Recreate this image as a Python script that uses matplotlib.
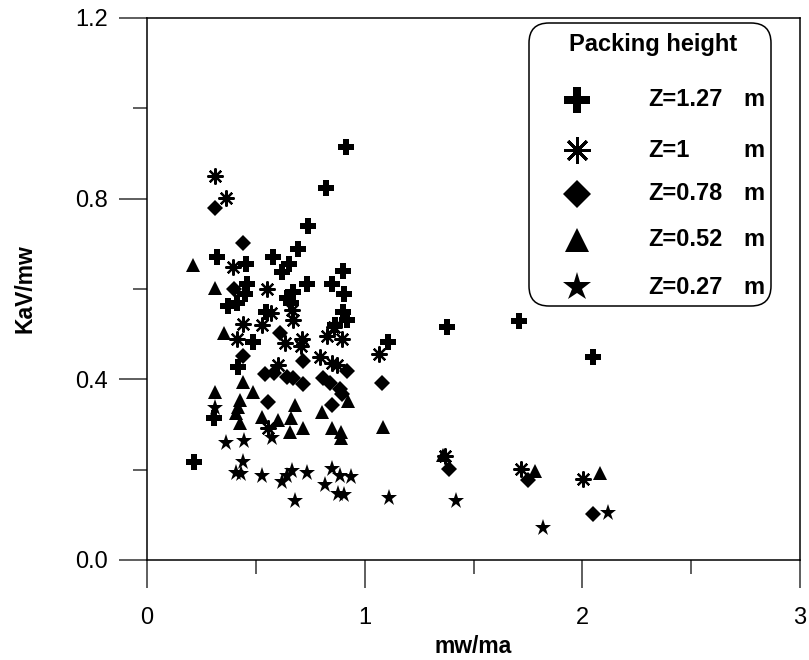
"""KaV/mw against mw/ma for five packing heights."""

import matplotlib
matplotlib.use("Agg")
import matplotlib.pyplot as plt
from matplotlib.lines import Line2D
from matplotlib.patches import FancyBboxPatch
from matplotlib.ticker import MultipleLocator, FormatStrFormatter

plt.rcParams["font.family"] = ["Liberation Sans", "DejaVu Sans"]

# Z = 1.27 m
z127_x = [0.914, 0.822, 0.740, 0.694, 0.320, 0.457, 0.581, 0.652, 0.620, 0.900,
          0.735, 0.850, 0.905, 0.459, 0.450, 0.671, 0.370, 0.415, 0.545, 0.661,
          0.900, 0.920, 0.862, 0.487, 0.420, 0.308, 0.215, 1.107, 1.378, 1.709,
          2.049, 0.643]
z127_y = [0.914, 0.824, 0.739, 0.689, 0.670, 0.655, 0.671, 0.655, 0.638, 0.639,
          0.611, 0.611, 0.588, 0.611, 0.589, 0.593, 0.562, 0.570, 0.550, 0.570,
          0.549, 0.531, 0.521, 0.483, 0.427, 0.315, 0.217, 0.483, 0.516, 0.529,
          0.449, 0.580]

# Z = 1 m
z100_x = [0.312, 0.363, 0.395, 0.553, 0.568, 0.666, 0.671, 0.441, 0.528, 0.413,
          0.710, 0.707, 0.632, 0.827, 0.896, 0.859, 0.797, 0.873, 0.850, 0.600,
          1.066, 0.556, 1.369, 1.718, 2.003]
z100_y = [0.850, 0.801, 0.649, 0.601, 0.547, 0.553, 0.531, 0.523, 0.520, 0.489,
          0.489, 0.474, 0.480, 0.496, 0.489, 0.516, 0.449, 0.432, 0.436, 0.432,
          0.456, 0.292, 0.230, 0.201, 0.179]

# Z = 0.78 m
z078_x = [0.312, 0.441, 0.398, 0.611, 0.717, 0.441, 0.542, 0.583, 0.643, 0.672,
          0.717, 0.808, 0.841, 0.919, 0.887, 0.896, 0.556, 0.850, 1.079, 1.387,
          1.750, 2.049]
z078_y = [0.779, 0.701, 0.601, 0.502, 0.441, 0.451, 0.412, 0.414, 0.405, 0.402,
          0.390, 0.404, 0.392, 0.418, 0.378, 0.368, 0.350, 0.343, 0.391, 0.201,
          0.177, 0.102]

# Z = 0.52 m
z052_x = [0.213, 0.312, 0.356, 0.314, 0.439, 0.487, 0.427, 0.418, 0.408, 0.425,
          0.528, 0.604, 0.662, 0.680, 0.717, 0.657, 0.806, 0.850, 0.892, 0.890,
          0.923, 1.084, 1.360, 1.782, 2.081]
z052_y = [0.653, 0.603, 0.503, 0.372, 0.393, 0.372, 0.354, 0.339, 0.325, 0.303,
          0.317, 0.310, 0.314, 0.343, 0.293, 0.283, 0.328, 0.293, 0.283, 0.270,
          0.352, 0.294, 0.233, 0.197, 0.192]

# Z = 0.27 m
z027_x = [0.312, 0.363, 0.446, 0.574, 0.441, 0.408, 0.430, 0.530, 0.620, 0.666,
          0.645, 0.737, 0.818, 0.848, 0.887, 0.935, 0.879, 0.907, 0.680, 1.113,
          1.419, 1.819, 2.118]
z027_y = [0.336, 0.260, 0.263, 0.270, 0.217, 0.193, 0.190, 0.185, 0.173, 0.197,
          0.185, 0.193, 0.166, 0.202, 0.186, 0.184, 0.147, 0.145, 0.130, 0.137,
          0.131, 0.071, 0.104]

labels = ["Z=1.27", "Z=1", "Z=0.78", "Z=0.52", "Z=0.27"]
unit = "m"

# marker, size in plot, size in legend, edge width
styles = [
    ("P", 11.5, 19, 0.0),
    ((8, 2, 0), 11.5, 19, 1.6),
    ("D", 8.0, 14, 0.0),
    ("^", 10.0, 17, 0.0),
    ("*", 12.5, 21, 0.0),
]
series = [(z127_x, z127_y), (z100_x, z100_y), (z078_x, z078_y),
          (z052_x, z052_y), (z027_x, z027_y)]

W, H = 809, 660
fig = plt.figure(figsize=(W / 100, H / 100), dpi=100)
ax = fig.add_axes([147 / W, (H - 560) / H, 653 / W, 542 / H])

for (xs, ys), (mk, ms, _, mew) in zip(series, styles):
    ax.plot(xs, ys, linestyle="none", marker=mk, markersize=ms,
            color="black", markeredgewidth=mew, clip_on=False)

ax.set_xlim(0, 3)
ax.set_ylim(0, 1.2)
ax.xaxis.set_major_locator(MultipleLocator(1))
ax.xaxis.set_minor_locator(MultipleLocator(0.5))
ax.yaxis.set_major_locator(MultipleLocator(0.4))
ax.yaxis.set_minor_locator(MultipleLocator(0.2))
ax.yaxis.set_major_formatter(FormatStrFormatter("%.1f"))
ax.tick_params(which="major", length=20, width=1.1, color="#333333",
               labelsize=17)
ax.tick_params(which="minor", length=10, width=1.1, color="#333333")
ax.tick_params(axis="x", which="major", pad=14)
ax.tick_params(axis="y", which="major", pad=8)
for sp in ax.spines.values():
    sp.set_linewidth(1.1)

ax.set_xlabel("mw/ma", fontsize=16.5, fontweight="bold", labelpad=4)
ax.set_ylabel("KaV/mw", fontsize=16.5, fontweight="bold", labelpad=28)

# hand-made legend, positions in figure pixels (top-left origin)
inch = fig.dpi_scale_trans


def px(x, y):
    return x / 100, (H - y) / 100


bx0, by0 = px(529, 306)
bx1, by1 = px(771, 23)
box = FancyBboxPatch((bx0, by0), bx1 - bx0, by1 - by0,
                     boxstyle="round,pad=0,rounding_size=0.2",
                     transform=inch, facecolor="white", edgecolor="black",
                     linewidth=1.1, zorder=5)
fig.add_artist(box)
tx, ty = px(653, 45)
fig.text(tx, ty, "Packing height", transform=inch, ha="center", va="center",
         fontsize=17, fontweight="bold", zorder=6)

rows = [100, 150, 194, 240, 287]
for lab, (mk, _, lms, mew), ry in zip(labels, styles, rows):
    mx, my = px(577, ry)
    fig.add_artist(Line2D([mx], [my], transform=inch, linestyle="none",
                          marker=mk, markersize=lms, color="black",
                          markeredgewidth=mew * 1.3, zorder=6))
    lx, ly = px(648, ry)
    fig.text(lx, ly, lab, transform=inch, ha="left", va="center",
             fontsize=17, fontweight="bold", zorder=6)
    ux, uy = px(743, ry)
    fig.text(ux, uy, unit, transform=inch, ha="left", va="center",
             fontsize=17, fontweight="bold", zorder=6)

fig.savefig("out.png", dpi=100)
